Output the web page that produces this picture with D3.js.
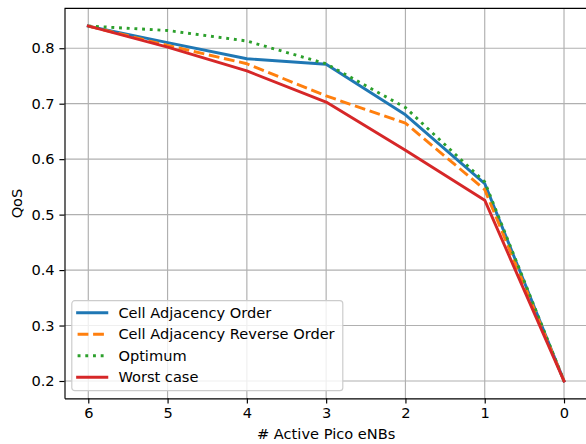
<!DOCTYPE html>
<html>
<head>
<meta charset="utf-8">
<script src="https://cdn.jsdelivr.net/npm/d3@7"></script>
<style>
  body { margin: 0; background: #fff; }
  text { font-family: "DejaVu Sans", sans-serif; }
</style>
</head>
<body>
<div id="chart"></div>
<script>
// data
const pico = [6, 5, 4, 3, 2, 1, 0];
const adjacency = [0.840, 0.810, 0.781, 0.771, 0.680, 0.556, 0.200];
const reverse = [0.840, 0.805, 0.772, 0.714, 0.665, 0.545, 0.200];
const optimum = [0.840, 0.832, 0.813, 0.772, 0.693, 0.559, 0.200];
const worst = [0.840, 0.802, 0.759, 0.703, 0.616, 0.526, 0.200];
const xTicks = [6, 5, 4, 3, 2, 1, 0];
const yTicks = [0.2, 0.3, 0.4, 0.5, 0.6, 0.7, 0.8];

const series = [
  {name: "Cell Adjacency Order", values: adjacency, color: "#1f77b4", dash: null},
  {name: "Cell Adjacency Reverse Order", values: reverse, color: "#ff7f0e", dash: "10.8,4.7"},
  {name: "Optimum", values: optimum, color: "#2ca02c", dash: "2.9,4.8"},
  {name: "Worst case", values: worst, color: "#d62728", dash: null}
];

const width = 586;
const height = 444;
const margin = {left: 64.5, right: -1.8, top: 8.3, bottom: 45.7};
const fs = 14.6;
const lw = 2.9;

const svg = d3.select("#chart")
  .append("svg")
  .attr("width", width)
  .attr("height", height);

const xScale = d3.scaleLinear()
  .domain([6.3, -0.3])
  .range([margin.left, width - margin.right]);

const yScale = d3.scaleLinear()
  .domain([0.1688, 0.872])
  .range([height - margin.bottom, margin.top]);

// grid
svg.append("g")
  .selectAll("line")
  .data(xTicks)
  .join("line")
    .attr("x1", d => xScale(d)).attr("x2", d => xScale(d))
    .attr("y1", margin.top).attr("y2", height - margin.bottom)
    .attr("stroke", "#b0b0b0").attr("stroke-width", 1.17);

svg.append("g")
  .selectAll("line")
  .data(yTicks)
  .join("line")
    .attr("x1", margin.left).attr("x2", width - margin.right)
    .attr("y1", d => yScale(d)).attr("y2", d => yScale(d))
    .attr("stroke", "#b0b0b0").attr("stroke-width", 1.17);

// lines
const line = d3.line()
  .x((d, i) => xScale(pico[i]))
  .y(d => yScale(d));

svg.append("g")
  .selectAll("path")
  .data(series)
  .join("path")
    .attr("d", d => line(d.values))
    .attr("fill", "none")
    .attr("stroke", d => d.color)
    .attr("stroke-width", lw)
    .attr("stroke-dasharray", d => d.dash)
    .attr("stroke-linecap", d => d.dash ? "butt" : "square")
    .attr("stroke-linejoin", "round");

// axes
const xAxis = svg.append("g")
  .attr("transform", `translate(0,${height - margin.bottom})`)
  .call(d3.axisBottom(xScale).tickValues(xTicks).tickFormat(d3.format("d"))
    .tickSize(5.1).tickPadding(4.6).tickSizeOuter(0));

const yAxis = svg.append("g")
  .attr("transform", `translate(${margin.left},0)`)
  .call(d3.axisLeft(yScale).tickValues(yTicks).tickFormat(d3.format(".1f"))
    .tickSize(5.1).tickPadding(4.8).tickSizeOuter(0));

[xAxis, yAxis].forEach(a => {
  a.select(".domain").attr("stroke", "#000").attr("stroke-width", 1.17);
  a.selectAll(".tick line").attr("stroke", "#000").attr("stroke-width", 1.17);
  a.selectAll(".tick text").attr("font-size", fs).attr("fill", "#000")
    .attr("font-family", "DejaVu Sans");
});

// top spine
svg.append("line")
  .attr("x1", margin.left).attr("x2", width)
  .attr("y1", margin.top).attr("y2", margin.top)
  .attr("stroke", "#000").attr("stroke-width", 1.17);

// axis labels
svg.append("text")
  .attr("x", (margin.left + xScale(-0.3)) / 2)
  .attr("y", 439)
  .attr("text-anchor", "middle")
  .attr("font-size", fs)
  .text("# Active Pico eNBs");

svg.append("text")
  .attr("transform", `translate(22,${yScale(0.52)}) rotate(-90)`)
  .attr("text-anchor", "middle")
  .attr("font-size", fs)
  .text("QoS");

// legend
const legend = svg.append("g").attr("transform", "translate(71.8,300.7)");
legend.append("rect")
  .attr("width", 271).attr("height", 90)
  .attr("rx", 3)
  .attr("fill", "#fff").attr("fill-opacity", 0.8)
  .attr("stroke", "#cccccc").attr("stroke-width", 1.17);

const entry = legend.selectAll(".entry")
  .data(series)
  .join("g")
    .attr("class", "entry")
    .attr("transform", (d, i) => `translate(0,${12 + i * 21.5})`);

entry.append("line")
  .attr("x1", 5.8).attr("x2", 35)
  .attr("stroke", d => d.color)
  .attr("stroke-width", lw)
  .attr("stroke-linecap", d => d.dash ? "butt" : "square")
  .attr("stroke-dasharray", d => d.dash);

entry.append("text")
  .attr("x", 46.6)
  .attr("dy", "0.36em")
  .attr("font-size", fs)
  .text(d => d.name);
</script>
</body>
</html>
